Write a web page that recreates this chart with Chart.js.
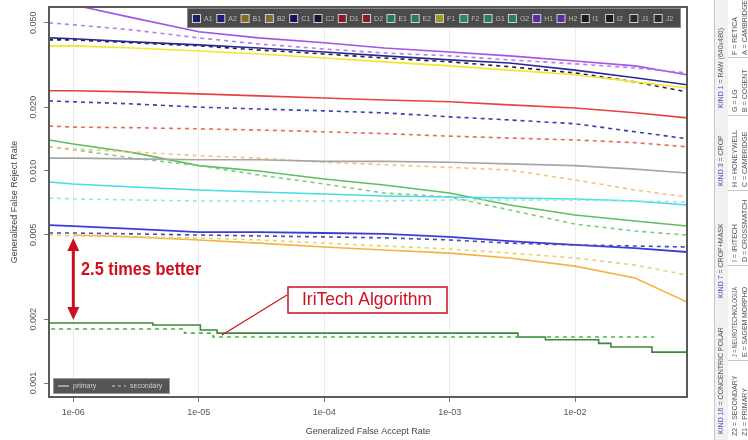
<!DOCTYPE html>
<html>
<head>
<meta charset="utf-8">
<script src="https://cdn.jsdelivr.net/npm/chart.js@4"></script>
<style>
  body { margin: 0; background: #fff; }
</style>
</head>
<body>
<canvas id="frrChart" width="748" height="440"></canvas>
<script>
// false accept rate sample points shared by the smooth curves
const far = [6.4e-7, 1e-6, 3e-6, 1e-5, 3e-5, 1e-4, 3e-4, 1e-3, 3e-3, 1e-2, 3e-2, 7.8e-2];

// generalized false reject rate
const h1 = [0.0641, 0.0607, 0.0527, 0.0453, 0.0424, 0.0402, 0.0380, 0.0364, 0.0349, 0.0330, 0.0313, 0.0284];
const h2 = [0.0499, 0.0489, 0.0462, 0.0424, 0.0397, 0.0376, 0.0360, 0.0349, 0.0334, 0.0320, 0.0306, 0.0290];
const c1 = [0.0424, 0.0420, 0.0406, 0.0393, 0.0380, 0.0364, 0.0349, 0.0334, 0.0323, 0.0299, 0.0275, 0.0255];
const c2 = [0.0415, 0.0415, 0.0402, 0.0389, 0.0372, 0.0356, 0.0341, 0.0327, 0.0310, 0.0290, 0.0263, 0.0236];
const f1 = [0.0389, 0.0389, 0.0380, 0.0368, 0.0356, 0.0341, 0.0327, 0.0313, 0.0299, 0.0284, 0.0263, 0.0246];
const d1 = [0.0239, 0.0239, 0.0236, 0.0231, 0.0226, 0.0221, 0.0216, 0.0212, 0.0205, 0.0198, 0.0188, 0.0178];
const a2 = [0.0214, 0.0212, 0.0207, 0.0200, 0.0196, 0.0192, 0.0188, 0.0180, 0.0174, 0.0167, 0.0153, 0.0142];
const d2 = [0.0163, 0.0161, 0.0160, 0.0158, 0.0156, 0.0153, 0.0150, 0.0146, 0.0143, 0.0140, 0.0136, 0.0130];
const j1 = [0.0115, 0.0115, 0.0114, 0.0113, 0.0113, 0.0111, 0.0111, 0.0110, 0.0108, 0.0106, 0.0102, 0.00978];
const b2 = [0.0130, 0.0127, 0.0123, 0.0118, 0.0115, 0.0110, 0.0107, 0.0104, 0.0101, 0.00907, 0.00814, 0.00754];
const e1 = [0.0140, 0.0134, 0.0122, 0.0106, 0.0100, 0.00917, 0.00859, 0.00787, 0.00691, 0.00620, 0.00581, 0.00550];
const e2 = [0.0130, 0.0126, 0.0115, 0.0106, 0.00957, 0.00868, 0.00787, 0.00754, 0.00655, 0.00562, 0.00521, 0.00499];
const i1 = [0.00887, 0.00868, 0.00840, 0.00814, 0.00796, 0.00779, 0.00762, 0.00754, 0.00746, 0.00738, 0.00722, 0.00691];
const i2 = [0.00746, 0.00738, 0.00730, 0.00722, 0.00722, 0.00722, 0.00722, 0.00730, 0.00730, 0.00730, 0.00722, 0.00714];
const a1 = [0.00556, 0.00550, 0.00533, 0.00515, 0.00515, 0.00510, 0.00505, 0.00489, 0.00467, 0.00448, 0.00433, 0.00415];
const g2b = [0.00510, 0.00510, 0.00505, 0.00499, 0.00494, 0.00489, 0.00484, 0.00473, 0.00457, 0.00448, 0.00443, 0.00438];
const f2 = [0.00499, 0.00494, 0.00489, 0.00483, 0.00473, 0.00457, 0.00443, 0.00429, 0.00410, 0.00389, 0.00360, 0.00323];
const b1 = [null, 0.00499, 0.00489, 0.00473, 0.00457, 0.00438, 0.00424, 0.00410, 0.00389, 0.00356, 0.00313, 0.00241];

// IriTech step curves
const iriFar = [6.4e-7, 4.3e-6, 1.03e-5, 1.4e-5, 3.5e-3, 5.8e-3, 1.54e-2, 1.93e-2, 4.1e-2, 4.75e-2, 7.8e-2];
const iriPrimary = [0.00196, 0.00192, 0.00188, 0.00178, 0.00172, 0.00165, 0.00160, 0.00154, 0.00148, 0.00140, 0.00140];
const iriSecFar = [6.4e-7, 7.7e-6, 1.3e-5, 3.6e-3, 4.27e-2];
const iriSecondary = [0.00192, 0.00180, 0.00172, 0.00165, 0.00165];

const xTicks = [1e-6, 1e-5, 1e-4, 1e-3, 1e-2];
const xTickLabels = ['1e-06', '1e-05', '1e-04', '1e-03', '1e-02'];
const yTicks = [0.001, 0.002, 0.005, 0.01, 0.02, 0.05];
const yTickLabels = ['0.001', '0.002', '0.005', '0.010', '0.020', '0.050'];

const legendCodes = ['A1','A2','B1','B2','C1','C2','D1','D2','E1','E2','F1','F2','G1','G2','H1','H2','I1','I2','J1','J2'];
const legendColors = ['#1c1c70','#1c1c70','#8a6a2a','#8a6a2a','#121260','#121240','#8a1a2a','#8a1a2a','#2a7a5a','#2a7a5a',
                      '#9a9a2a','#2a8a5a','#2a7a6a','#2a7a6a','#5a2aa0','#5a2aa0','#1a1a1a','#1a1a1a','#2a2a2a','#2a2a2a'];

const pts = (xs, ys) => xs.map((x, i) => ({ x: x, y: ys[i] }));
const DASH = [4, 4];

function line(ys, color, dashed, width) {
  return {
    data: pts(far, ys),
    borderColor: color,
    borderWidth: width || 1.6,
    borderDash: dashed ? DASH : [],
    pointRadius: 0,
    fill: false
  };
}

Chart.defaults.font.family = '"Liberation Sans", Arial, sans-serif';

const extras = {
  id: 'extras',
  afterDraw(chart) {
    const ctx = chart.ctx;
    const area = chart.chartArea;
    const xs = chart.scales.x, ys = chart.scales.y;
    ctx.save();

    // plot frame
    ctx.strokeStyle = '#5a5a5a';
    ctx.lineWidth = 2;
    ctx.strokeRect(area.left, area.top, area.right - area.left, area.bottom - area.top);

    // y tick labels, rotated like R
    ctx.fillStyle = '#555';
    ctx.font = '9px "Liberation Sans", Arial, sans-serif';
    ctx.textAlign = 'center';
    ctx.textBaseline = 'middle';
    yTicks.forEach((v, i) => {
      ctx.save();
      ctx.translate(34, ys.getPixelForValue(v));
      ctx.rotate(-Math.PI / 2);
      ctx.fillText(yTickLabels[i], 0, 0);
      ctx.restore();
    });

    // axis titles
    ctx.fillStyle = '#444';
    ctx.save();
    ctx.translate(15, (area.top + area.bottom) / 2);
    ctx.rotate(-Math.PI / 2);
    ctx.fillText('Generalized False Reject Rate', 0, 0);
    ctx.restore();
    ctx.fillText('Generalized False Accept Rate', (area.left + area.right) / 2, 432);

    // top legend box
    const lx0 = 187, lx1 = 681, ly0 = 8, ly1 = 28;
    ctx.fillStyle = '#4a4a4a';
    ctx.fillRect(lx0, ly0, lx1 - lx0, ly1 - ly0);
    ctx.strokeStyle = '#8a8a8a';
    ctx.lineWidth = 1;
    ctx.strokeRect(lx0 + 0.5, ly0 + 0.5, lx1 - lx0 - 1, ly1 - ly0 - 1);
    const step = (lx1 - lx0 - 8) / legendCodes.length;
    ctx.font = '7px "Liberation Sans", Arial, sans-serif';
    ctx.textAlign = 'left';
    legendCodes.forEach((code, i) => {
      const mx = lx0 + 6 + i * step;
      ctx.fillStyle = '#cfcfcf';
      ctx.fillRect(mx - 1, 14, 9, 9);
      ctx.fillStyle = legendColors[i];
      ctx.fillRect(mx, 15, 7, 7);
      ctx.fillStyle = '#bdbdbd';
      ctx.fillText(code, mx + 11, 19);
    });

    // bottom-left primary / secondary legend
    ctx.fillStyle = '#555';
    ctx.fillRect(53, 378, 117, 16);
    ctx.strokeStyle = '#999';
    ctx.strokeRect(53.5, 378.5, 116, 15);
    ctx.strokeStyle = '#d0d0d0';
    ctx.lineWidth = 1.2;
    ctx.beginPath(); ctx.moveTo(58, 386); ctx.lineTo(69, 386); ctx.stroke();
    ctx.setLineDash([3, 3]);
    ctx.beginPath(); ctx.moveTo(112, 386); ctx.lineTo(126, 386); ctx.stroke();
    ctx.setLineDash([]);
    ctx.fillStyle = '#d0d0d0';
    ctx.fillText('primary', 73, 386);
    ctx.fillText('secondary', 130, 386);

    // red double arrow between the two 1e-06 levels
    const ax = xs.getPixelForValue(1e-6);
    const aTop = ys.getPixelForValue(f2[1]) + 2;
    const aBot = ys.getPixelForValue(iriPrimary[0]) - 1;
    ctx.strokeStyle = '#c8101e';
    ctx.fillStyle = '#c8101e';
    ctx.lineWidth = 3;
    ctx.beginPath(); ctx.moveTo(ax, aTop + 10); ctx.lineTo(ax, aBot - 10); ctx.stroke();
    ctx.beginPath(); ctx.moveTo(ax, aTop); ctx.lineTo(ax - 6, aTop + 13); ctx.lineTo(ax + 6, aTop + 13); ctx.closePath(); ctx.fill();
    ctx.beginPath(); ctx.moveTo(ax, aBot); ctx.lineTo(ax - 6, aBot - 13); ctx.lineTo(ax + 6, aBot - 13); ctx.closePath(); ctx.fill();

    ctx.font = 'bold 19px "Liberation Sans", Arial, sans-serif';
    ctx.textAlign = 'left';
    ctx.fillStyle = '#d0101e';
    ctx.fillText('2.5 times better', 81, 270, 120);

    // IriTech callout
    ctx.strokeStyle = '#d0101e';
    ctx.lineWidth = 1.2;
    ctx.beginPath(); ctx.moveTo(287, 295); ctx.lineTo(222, 335); ctx.stroke();
    ctx.fillStyle = '#fff';
    ctx.fillRect(288, 287, 159, 26);
    ctx.lineWidth = 1.5;
    ctx.strokeRect(288, 287, 159, 26);
    ctx.fillStyle = '#d0101e';
    ctx.font = '19px "Liberation Sans", Arial, sans-serif';
    ctx.textAlign = 'center';
    ctx.fillText('IriTech Algorithm', 367, 300, 130);

    // right-hand key panel
    ctx.fillStyle = '#f1f1f1';
    ctx.fillRect(714, 0, 14, 440);
    ctx.strokeStyle = '#c8c8c8';
    ctx.lineWidth = 1;
    ctx.beginPath(); ctx.moveTo(714.5, 0); ctx.lineTo(714.5, 440); ctx.stroke();
    [57, 115, 190, 265, 360].forEach(y => {
      ctx.beginPath(); ctx.moveTo(728, y + 0.5); ctx.lineTo(748, y + 0.5); ctx.stroke();
    });
    ctx.font = '7px "Liberation Sans", Arial, sans-serif';
    ctx.textAlign = 'left';
    const rot = (text, x, yStart, color, maxW) => {
      ctx.save();
      ctx.translate(x, yStart);
      ctx.rotate(-Math.PI / 2);
      ctx.fillStyle = color;
      ctx.fillText(text, 0, 0, maxW);
      ctx.restore();
    };
    const kinds = [['KIND 1', ' = RAW (640x480)', 108], ['KIND 3', ' = CROP', 186], ['KIND 7', ' = CROP+MASK', 298], ['KIND 16', ' = CONCENTRIC POLAR', 434]];
    kinds.forEach(k => {
      rot(k[0], 721, k[2], '#4a4ac8');
      const w = ctx.measureText(k[0]).width;
      rot(k[1], 721, k[2] - w, '#555');
    });
    const col2 = [['F = RETICA', 55], ['G = LG', 112], ['H = HONEYWELL', 187], ['I = IRITECH', 262], ['J = NEUROTECHNOLOGIJA', 357], ['Z2 = SECONDARY', 436]];
    col2.forEach(c => rot(c[0], 735, c[1], '#555', 70));
    const col3 = [['A = CAMBRIDGE', 55], ['B = COGENT', 112], ['C = CAMBRIDGE', 187], ['D = CROSSMATCH', 262], ['E = SAGEM MORPHO', 357], ['Z1 = PRIMARY', 436]];
    col3.forEach(c => rot(c[0], 745, c[1], '#555', 70));

    ctx.restore();
  }
};

const ctx = document.getElementById('frrChart').getContext('2d');

const frrChart = new Chart(ctx, {
  type: 'line',
  data: {
    datasets: [
      line(j1, '#a6a6a6', false),
      line(b2, '#f6c27c', true),
      line(d2, '#ec6a58', true),
      line(a2, '#3a3ab8', true),
      line(d1, '#e8423c', false),
      line(f1, '#f4e62c', false),
      line(c1, '#2a2a8e', false),
      line(c2, '#22224a', true),
      line(h2, '#b27ef0', true),
      line(h1, '#a452ea', false),
      line(i2, '#96e6e6', true),
      line(i1, '#44dce6', false),
      line(e2, '#7ccc80', true),
      line(e1, '#5cbe62', false),
      line(f2, '#e6d470', true),
      line(g2b, '#4a4aa8', true),
      line(a1, '#3c3cdc', false, 1.8),
      line(b1, '#f5b244', false),
      {
        data: pts(iriSecFar, iriSecondary),
        borderColor: '#4caf50',
        borderWidth: 1.6,
        borderDash: DASH,
        stepped: 'after',
        pointRadius: 0
      },
      {
        data: pts(iriFar, iriPrimary),
        borderColor: '#3a883a',
        borderWidth: 1.6,
        stepped: 'after',
        pointRadius: 0
      }
    ]
  },
  options: {
    responsive: false,
    animation: false,
    layout: { padding: { left: 0, right: 61, top: 7, bottom: 0 } },
    plugins: {
      legend: { display: false },
      tooltip: { enabled: false }
    },
    scales: {
      x: {
        type: 'logarithmic',
        min: 6.4e-7,
        max: 7.8e-2,
        afterBuildTicks: s => { s.ticks = xTicks.map(v => ({ value: v })); },
        afterFit: s => { s.height = 43; },
        ticks: {
          autoSkip: false,
          maxRotation: 0,
          padding: 5,
          color: '#555',
          font: { size: 9 },
          callback: (v, i) => xTickLabels[i]
        },
        grid: { color: '#ececec', tickColor: '#777', tickLength: 5 },
        border: { display: false }
      },
      y: {
        type: 'logarithmic',
        min: 0.00086,
        max: 0.0593,
        afterBuildTicks: s => { s.ticks = yTicks.map(v => ({ value: v })); },
        afterFit: s => { s.width = 49; },
        ticks: { display: false },
        grid: { drawOnChartArea: false, tickColor: '#777', tickLength: 5 },
        border: { display: false }
      }
    }
  },
  plugins: [extras]
});
</script>
</body>
</html>
